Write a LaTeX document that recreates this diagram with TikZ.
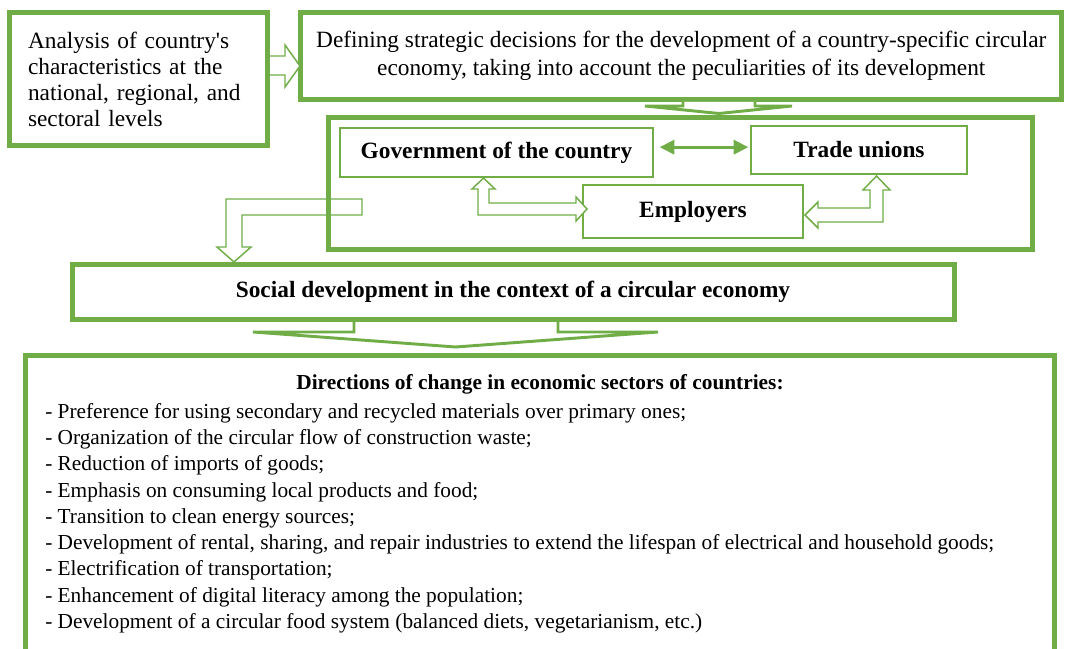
\documentclass[tikz,border=0pt]{standalone}
\usepackage{fontspec}
\setmainfont{Liberation Serif}
\usetikzlibrary{arrows.meta, positioning, calc}
\definecolor{boxgreen}{HTML}{70AD47}
\tikzset{
  mainbox/.style={draw=boxgreen, line width=3.75pt, inner sep=0pt, outer sep=0pt},
  rolebox/.style={draw=boxgreen, line width=1.2pt, inner sep=0pt, outer sep=0pt,
    font=\fontsize{17.5}{21}\selectfont\bfseries},
  hollowarrow/.style={draw=boxgreen, line width=1.1pt, fill=white},
  flatarrow/.style={draw=boxgreen, line width=2.2pt, fill=white},
  duplex/.style={draw=boxgreen, line width=2.4pt, >={Triangle[length=11pt,width=10.5pt]}, <->}
}

\begin{document}
\begin{tikzpicture}[x=0.75pt, y=-0.75pt]
  \useasboundingbox (0,0) rectangle (1067,649);

  % top row
  \node[mainbox, minimum width=193.5pt, minimum height=99.75pt, text width=165.75pt,
        align=left, font=\fontsize{17.5}{19.5}\selectfont] (analysis) at (138.5,79)
    {Analysis of country\textquotesingle s\\ characteristics at the\\ national, regional, and\\ sectoral levels};
  \node[mainbox, minimum width=571.1pt, minimum height=65.25pt, align=center,
        font=\fontsize{17.5}{21}\selectfont] (strategy) at (681.25,56)
    {Defining strategic decisions for the development of a country-specific circular\\
     economy, taking into account the peculiarities of its development};

  % social partners
  \node[rolebox, minimum width=234.75pt, minimum height=36.75pt] (gov) at (496.5,152.5) {Government of the country};
  \node[rolebox, minimum width=162pt, minimum height=36pt] (unions) at (859,150) {Trade unions};
  \node[rolebox, minimum width=165pt, minimum height=39.75pt] (employers) at (693,211.5) {Employers};

  \draw[duplex] ([xshift=5pt,yshift=4pt]gov.east) -- ([xshift=-2pt,yshift=4pt]gov.east -| unions.west);

  \draw[hollowarrow] (483.5,178) -- (495,189) -- (489,189) -- (489,203) -- (576,203) -- (576,197)
    -- (587,209) -- (576,221) -- (576,215) -- (478,215) -- (478,189) -- (472,189) -- cycle;
  \draw[hollowarrow] (805,215) -- (818,202) -- (818,208) -- (870,208) -- (870,190) -- (863,190)
    -- (876.5,176) -- (890,190) -- (883,190) -- (883,222) -- (818,222) -- (818,228) -- cycle;

  % elbow arrow out of the partners block
  \draw[hollowarrow] (362,199) -- (226,199) -- (226,247) -- (217,247) -- (234,262) -- (251,247)
    -- (242,247) -- (242,215) -- (362,215) -- cycle;
  \node[mainbox, minimum width=528pt, minimum height=99pt] (partners) at (680.5,183.5) {};

  % social development and sectors
  \node[mainbox, minimum width=661.5pt, minimum height=41.25pt,
        font=\fontsize{17.5}{21}\selectfont\bfseries] (social) at (513,292)
    {Social development in the context of a circular economy};
  \node[mainbox, minimum width=772.1pt, minimum height=243.4pt] (sectors) at (540.25,517.75) {};
  \node[font=\fontsize{16}{19.7}\selectfont\bfseries] (dirtitle) at (540,384)
    {Directions of change in economic sectors of countries:};
  \node[anchor=north west, inner sep=0pt, align=left, font=\fontsize{16}{19.7}\selectfont] (dirlist) at (45,403)
    {- Preference for using secondary and recycled materials over primary ones;\\
     - Organization of the circular flow of construction waste;\\
     - Reduction of imports of goods;\\
     - Emphasis on consuming local products and food;\\
     - Transition to clean energy sources;\\
     - Development of rental, sharing, and repair industries to extend the lifespan of electrical and household goods;\\
     - Electrification of transportation;\\
     - Enhancement of digital literacy among the population;\\
     - Development of a circular food system (balanced diets, vegetarianism, etc.)};

  % block arrows between the stages
  \draw[hollowarrow] (270,56) -- (285,56) -- (285,45) -- (300,66) -- (285,87) -- (285,75) -- (270,75);
  \draw[flatarrow] (683,102) -- (683,106) -- (645,106) -- (719,113.5) -- (792,106) -- (755,106) -- (755,102);
  \draw[flatarrow] (354,322) -- (354,332) -- (253,332) -- (455.5,347) -- (658,332) -- (558,332) -- (558,322);
\end{tikzpicture}
\end{document}
